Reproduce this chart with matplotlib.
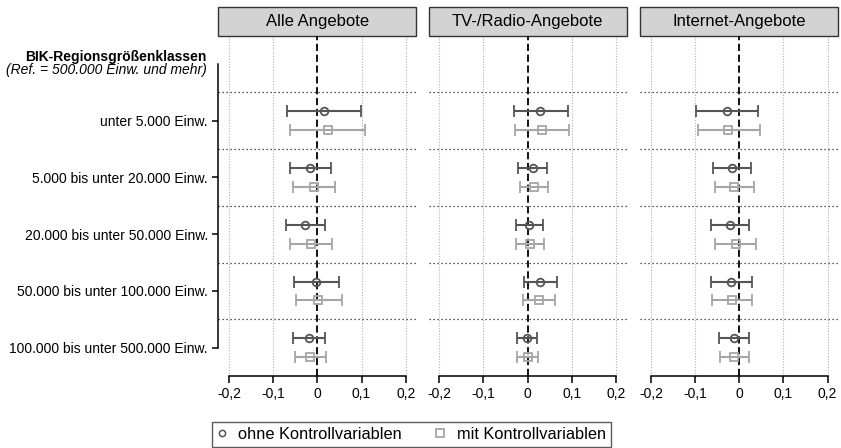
import matplotlib
matplotlib.use("Agg")
import matplotlib.pyplot as plt
from matplotlib.lines import Line2D
from matplotlib.patches import Rectangle
from matplotlib.transforms import blended_transform_factory

plt.rcParams.update({"font.family": ["Liberation Sans", "DejaVu Sans"],
                     "font.size": 10})

# ---- data ----
PANELS = ["Alle Angebote", "TV-/Radio-Angebote", "Internet-Angebote"]
CATS = ["unter 5.000 Einw.", "5.000 bis unter 20.000 Einw.",
        "20.000 bis unter 50.000 Einw.", "50.000 bis unter 100.000 Einw.",
        "100.000 bis unter 500.000 Einw."]
XTICKS = [-0.2, -0.1, 0.0, 0.1, 0.2]
XTICKLABELS = ["-0,2", "-0,1", "0", "0,1", "0,2"]

# ohne Kontrollvariablen: estimate, lower, upper (one list per panel)
OHNE_EST = [[0.014, -0.016, -0.028, -0.002, -0.019],
            [0.029, 0.011, 0.004, 0.027, -0.002],
            [-0.027, -0.016, -0.020, -0.018, -0.011]]
OHNE_LO = [[-0.069, -0.063, -0.072, -0.053, -0.054],
           [-0.032, -0.021, -0.026, -0.009, -0.024],
           [-0.097, -0.059, -0.063, -0.063, -0.045]]
OHNE_HI = [[0.099, 0.031, 0.018, 0.050, 0.018],
           [0.091, 0.043, 0.035, 0.066, 0.022],
           [0.043, 0.027, 0.022, 0.029, 0.021]]
# mit Kontrollvariablen
MIT_EST = [[0.023, -0.008, -0.015, 0.002, -0.016],
           [0.032, 0.015, 0.005, 0.026, 0.000],
           [-0.025, -0.011, -0.008, -0.017, -0.011]]
MIT_LO = [[-0.063, -0.055, -0.063, -0.048, -0.050],
          [-0.029, -0.018, -0.026, -0.011, -0.023],
          [-0.093, -0.054, -0.054, -0.062, -0.043]]
MIT_HI = [[0.109, 0.039, 0.033, 0.055, 0.020],
          [0.093, 0.047, 0.037, 0.062, 0.023],
          [0.046, 0.033, 0.038, 0.029, 0.022]]

DARK = "#555555"
LIGHT = "#a6a6a6"
W, H = 841, 448

fig = plt.figure(figsize=(W / 100, H / 100), dpi=100)

n = len(CATS)
ypos = [n - 1 - i for i in range(n)]       # top category highest
lefts = [218.4, 428.7, 640.3]
pw, bot, ph = 197.9, 72.0, 340.3

for k, title in enumerate(PANELS):
    ax = fig.add_axes([lefts[k] / W, bot / H, pw / W, ph / H])
    ax.set_xlim(-0.224, 0.224)
    ax.set_ylim(-0.5, n + 0.5)

    # grid
    for xv in [-0.2, -0.1, 0.1, 0.2]:
        ax.axvline(xv, color="#b0b0b0", lw=0.8, ls=(0, (1, 1.5)), zorder=1)
    for yv in range(n):
        ax.axhline(yv + 0.5, color="#222222", lw=0.9, ls=(0, (1, 2.2)), zorder=1)
    ax.axvline(0, color="black", lw=1.3, ls=(0, (4, 2)), zorder=2)

    lo_o = [e - l for e, l in zip(OHNE_EST[k], OHNE_LO[k])]
    hi_o = [h - e for e, h in zip(OHNE_EST[k], OHNE_HI[k])]
    lo_m = [e - l for e, l in zip(MIT_EST[k], MIT_LO[k])]
    hi_m = [h - e for e, h in zip(MIT_EST[k], MIT_HI[k])]
    ax.errorbar(OHNE_EST[k], [y + 0.165 for y in ypos], xerr=[lo_o, hi_o],
                fmt="o", ms=5.5, mfc="none", mec=DARK, mew=1.3, color=DARK,
                elinewidth=1.5, capsize=4.5, capthick=1.5, zorder=3)
    ax.errorbar(MIT_EST[k], [y - 0.165 for y in ypos], xerr=[lo_m, hi_m],
                fmt="s", ms=5.5, mfc="none", mec=LIGHT, mew=1.3, color=LIGHT,
                elinewidth=1.5, capsize=4.5, capthick=1.5, zorder=3)

    # strip header
    ax.add_patch(Rectangle((0, 1), 1, 28.4 / ph, transform=ax.transAxes,
                           clip_on=False, fc="#d3d3d3", ec="#333333", lw=1))
    ax.text(0.5, 1 + 14.2 / ph, title, transform=ax.transAxes, ha="center",
            va="center", fontsize=12)

    for s in ["top", "right"]:
        ax.spines[s].set_visible(False)
    ax.spines["bottom"].set_bounds(-0.2, 0.2)
    ax.spines["bottom"].set_linewidth(1.1)
    ax.set_xticks(XTICKS)
    ax.set_xticklabels(XTICKLABELS)
    ax.tick_params(axis="x", length=5, width=1.1, pad=3, labelsize=10)

    if k == 0:
        ax.spines["left"].set_bounds(0, n)
        ax.spines["left"].set_linewidth(1.1)
        ax.set_yticks(ypos)
        ax.set_yticklabels(CATS)
        ax.tick_params(axis="y", length=4.5, width=1.1, pad=3, labelsize=10)
        tr = blended_transform_factory(ax.transAxes, ax.transData)
        ax.text(-0.06, n + 0.12, "BIK-Regionsgrößenklassen", transform=tr,
                ha="right", va="center", fontsize=10, fontweight="bold")
        ax.text(-0.06, n - 0.11, "(Ref. = 500.000 Einw. und mehr)",
                transform=tr, ha="right", va="center", fontsize=10,
                style="italic")
    else:
        ax.spines["left"].set_visible(False)
        ax.set_yticks([])

handles = [Line2D([], [], ls="none", marker="o", ms=4.5, mfc="none",
                  mec=DARK, mew=1.1),
           Line2D([], [], ls="none", marker="s", ms=6, mfc="none",
                  mec=LIGHT, mew=1.3)]
leg = fig.legend(handles, ["ohne Kontrollvariablen", "mit Kontrollvariablen"],
                 ncol=2, loc="lower left",
                 bbox_to_anchor=(211.7 / W, 1 / H), borderaxespad=0,
                 frameon=True, fancybox=False, fontsize=11.8,
                 handlelength=0.6, handletextpad=0.69, columnspacing=2.07,
                 borderpad=0.3)
leg.get_frame().set_edgecolor("#333333")
leg.get_frame().set_linewidth(1.0)

fig.savefig("out.png", dpi=100)
